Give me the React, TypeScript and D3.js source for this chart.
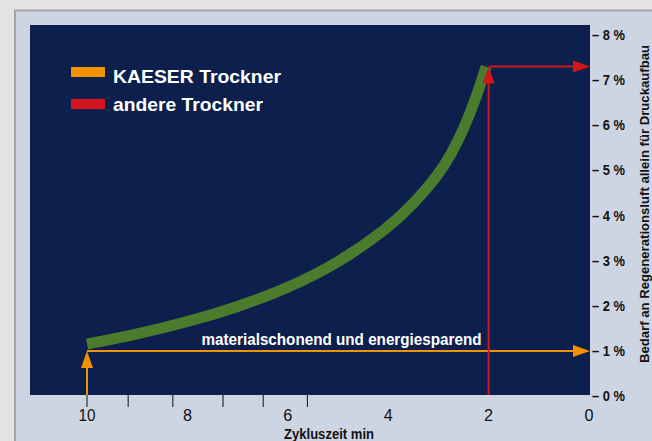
import React from "react";
import * as d3 from "d3";

const W = 652;
const H = 441;

// data
const curveMinutes = [10, 9, 8, 7, 6, 5, 4, 3.5, 3, 2.75, 2.5, 2.25, 2.05];
const curvePercent = [1.15, 1.37, 1.64, 1.97, 2.39, 2.94, 3.72, 4.25, 4.9, 5.35, 5.9, 6.6, 7.3];
const xTickLabels = [10, 8, 6, 4, 2, 0];
const xMinorTicks = [10, 9.18, 8.29, 7.29, 6.49, 5.61];
const yTicks = [0, 1, 2, 3, 4, 5, 6, 7, 8];
const kaeserLevel = 1; // %
const kaeserCycle = 10; // min
const otherLevel = 7.3; // %
const otherCycle = 2; // min
const legendItems = ["KAESER Trockner", "andere Trockner"];

const NAVY = "#0d1f4d";
const PANEL = "#cdd4e2";
const ORANGE = "#f39200";
const RED = "#d2161c";
const GREEN = "#4b7b2c";
const FONT = "'Liberation Sans', Arial, sans-serif";

export default function App() {
  const plot = { left: 30, right: 590, top: 25, bottom: 395 };
  const x = d3.scaleLinear().domain([10, 0]).range([87, 589]);
  const y = d3.scaleLinear().domain([0, 8]).range([396, 35]);

  const pts: [number, number][] = curveMinutes.map((m, i) => [m, curvePercent[i]]);
  const line = d3
    .line<[number, number]>()
    .x((d) => x(d[0]))
    .y((d) => y(d[1]))
    .curve(d3.curveBasis);

  const ky = y(kaeserLevel);
  const kx = x(kaeserCycle);
  const ry = y(otherLevel);
  const rx = x(otherCycle);

  const upArrow = (cx: number, tipY: number) =>
    `M${cx},${tipY} L${cx - 6},${tipY + 17} L${cx + 6},${tipY + 17} Z`;
  const rightArrow = (tipX: number, cy: number) =>
    `M${tipX},${cy} L${tipX - 17},${cy - 6} L${tipX - 17},${cy + 6} Z`;

  return (
    <svg
      width={W}
      height={H}
      style={{ position: "absolute", left: 0, top: 0 }}
      fontFamily={FONT}
    >
      <rect x={0} y={0} width={W} height={H} fill="#e3e3e3" />
      <rect x={15} y={10.5} width={W + 20} height={H + 20} fill={PANEL} stroke="#a5a5a5" strokeWidth={2} />
      <rect
        x={plot.left}
        y={plot.top}
        width={plot.right - plot.left}
        height={plot.bottom - plot.top}
        fill={NAVY}
      />

      {/* legend */}
      <rect x={71} y={67} width={34} height={10} fill={ORANGE} />
      <text x={113} y={82.5} fill="#fff" fontWeight="bold" fontSize={19} textLength={168} lengthAdjust="spacingAndGlyphs">
        {legendItems[0]}
      </text>
      <rect x={71} y={99} width={34} height={10} fill={RED} />
      <text x={113} y={110.5} fill="#fff" fontWeight="bold" fontSize={19} textLength={150} lengthAdjust="spacingAndGlyphs">
        {legendItems[1]}
      </text>

      {/* curve */}
      <path d={line(pts) || ""} fill="none" stroke={GREEN} strokeWidth={11} strokeLinecap="butt" />

      {/* orange arrows */}
      <line x1={kx} x2={plot.right - 14} y1={ky} y2={ky} stroke={ORANGE} strokeWidth={2} />
      <path d={rightArrow(plot.right, ky)} fill={ORANGE} />
      <line x1={kx} x2={kx} y1={plot.bottom} y2={ky + 12} stroke={ORANGE} strokeWidth={2} />
      <path d={upArrow(kx, ky)} fill={ORANGE} />

      {/* red arrows */}
      <line x1={rx} x2={plot.right - 14} y1={ry} y2={ry} stroke={RED} strokeWidth={2} />
      <path d={rightArrow(plot.right, ry)} fill={RED} />
      <line x1={rx} x2={rx} y1={plot.bottom} y2={ry + 12} stroke={RED} strokeWidth={2} />
      <path d={upArrow(rx, ry)} fill={RED} />

      <text x={341.5} y={345} textAnchor="middle" fill="#fff" fontWeight="bold" fontSize={16} textLength={280} lengthAdjust="spacingAndGlyphs">
        materialschonend und energiesparend
      </text>

      {/* y axis labels */}
      {yTicks.map((v) => (
        <text key={v} x={592} y={y(v) + 5} fontSize={14} fontWeight="bold" fill="#111" textLength={33} lengthAdjust="spacingAndGlyphs">
          {`– ${v} %`}
        </text>
      ))}
      <text
        transform={`translate(648.5, ${204}) rotate(-90)`}
        textAnchor="middle"
        fontSize={13.5}
        fontWeight="bold"
        fill="#111"
        textLength={318}
        lengthAdjust="spacingAndGlyphs"
      >
        Bedarf an Regenerationsluft allein für Druckaufbau
      </text>

      {/* x axis */}
      {xMinorTicks.map((v) => (
        <line key={v} x1={x(v)} x2={x(v)} y1={plot.bottom} y2={plot.bottom + 12} stroke="#111" strokeWidth={1} />
      ))}
      {xTickLabels.map((v) => (
        <text key={v} x={x(v)} y={421} textAnchor="middle" fontSize={16} fill="#111" textLength={v === 10 ? 17 : 9} lengthAdjust="spacingAndGlyphs">
          {v}
        </text>
      ))}
      <text x={329} y={439} textAnchor="middle" fontSize={14} fontWeight="bold" fill="#111" textLength={90} lengthAdjust="spacingAndGlyphs">
        Zykluszeit min
      </text>
    </svg>
  );
}
